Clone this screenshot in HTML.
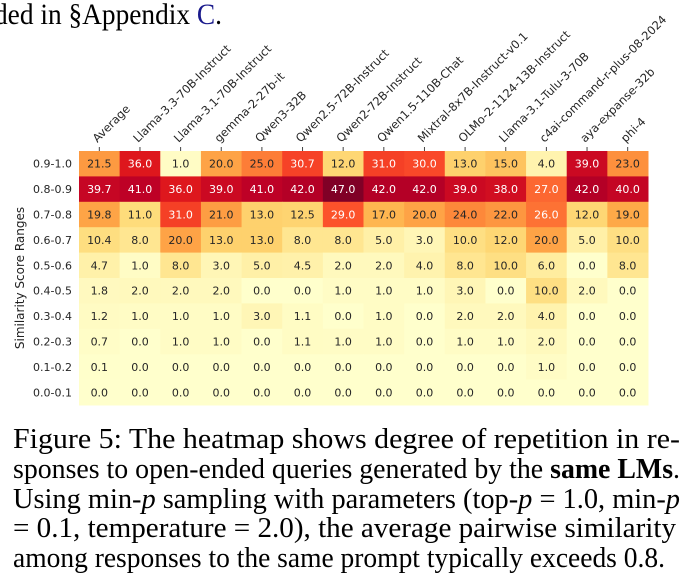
<!DOCTYPE html>
<html><head><meta charset="utf-8"><style>
html,body{margin:0;padding:0;background:#fff;width:694px;height:583px;overflow:hidden}
svg{display:block}
</style></head><body>
<svg id="chart" width="694" height="583" xmlns="http://www.w3.org/2000/svg">
<text x="-6" y="24" font-family="Liberation Serif, serif" font-size="30" fill="#000" textLength="228" lengthAdjust="spacingAndGlyphs">ded in §Appendix <tspan fill="#1a1a8c">C</tspan>.</text>
<g id="heat"></g>
<text transform="translate(24,278) rotate(-90)" text-anchor="middle" font-family="DejaVu Sans, sans-serif" font-size="12" fill="#222">Similarity Score Ranges</text>
<g font-family="Liberation Serif, serif" font-size="28" fill="#000">
<text x="13" y="448" textLength="667" lengthAdjust="spacingAndGlyphs">Figure 5:  The heatmap shows degree of repetition in re-</text>
<text x="13" y="478" textLength="667" lengthAdjust="spacingAndGlyphs">sponses to open-ended queries generated by the <tspan font-weight="bold">same LMs</tspan>.</text>
<text x="13" y="508" textLength="667" lengthAdjust="spacingAndGlyphs">Using min-<tspan font-style="italic">p</tspan> sampling with parameters (top-<tspan font-style="italic">p</tspan> = 1.0, min-<tspan font-style="italic">p</tspan></text>
<text x="13" y="537" textLength="663" lengthAdjust="spacingAndGlyphs">= 0.1, temperature = 2.0), the average pairwise similarity</text>
<text x="13" y="567" textLength="652" lengthAdjust="spacingAndGlyphs">among responses to the same prompt typically exceeds 0.8.</text>
</g>
</svg>
<script>
const models = ["Average","Llama-3.3-70B-Instruct","Llama-3.1-70B-Instruct","gemma-2-27b-it","Qwen3-32B","Qwen2.5-72B-Instruct","Qwen2-72B-Instruct","Qwen1.5-110B-Chat","Mixtral-8x7B-Instruct-v0.1","OLMo-2-1124-13B-Instruct","Llama-3.1-Tulu-3-70B","c4ai-command-r-plus-08-2024","aya-expanse-32b","phi-4"];
const ranges = ["0.9-1.0","0.8-0.9","0.7-0.8","0.6-0.7","0.5-0.6","0.4-0.5","0.3-0.4","0.2-0.3","0.1-0.2","0.0-0.1"];
const row09 = [21.5,36.0,1.0,20.0,25.0,30.7,12.0,31.0,30.0,13.0,15.0,4.0,39.0,23.0];
const row08 = [39.7,41.0,36.0,39.0,41.0,42.0,47.0,42.0,42.0,39.0,38.0,27.0,42.0,40.0];
const row07 = [19.8,11.0,31.0,21.0,13.0,12.5,29.0,17.0,20.0,24.0,22.0,26.0,12.0,19.0];
const row06 = [10.4,8.0,20.0,13.0,13.0,8.0,8.0,5.0,3.0,10.0,12.0,20.0,5.0,10.0];
const row05 = [4.7,1.0,8.0,3.0,5.0,4.5,2.0,2.0,4.0,8.0,10.0,6.0,0.0,8.0];
const row04 = [1.8,2.0,2.0,2.0,0.0,0.0,1.0,1.0,1.0,3.0,0.0,10.0,2.0,0.0];
const row03 = [1.2,1.0,1.0,1.0,3.0,1.1,0.0,1.0,0.0,2.0,2.0,4.0,0.0,0.0];
const row02 = [0.7,0.0,1.0,1.0,0.0,1.1,1.0,1.0,0.0,1.0,1.0,2.0,0.0,0.0];
const row01 = [0.1,0.0,0.0,0.0,0.0,0.0,0.0,0.0,0.0,0.0,0.0,1.0,0.0,0.0];
const row00 = [0.0,0.0,0.0,0.0,0.0,0.0,0.0,0.0,0.0,0.0,0.0,0.0,0.0,0.0];
const rows = [row09,row08,row07,row06,row05,row04,row03,row02,row01,row00];

const X0=79, X1=648, Y0=151, Y1=405;
const cw=(X1-X0)/models.length, ch=(Y1-Y0)/ranges.length;
const xPos=i=>X0+i*cw, yPos=j=>Y0+j*ch;
const vmax=Math.max(...rows.flat());
const stops=["#ffffcc","#ffeda0","#fed976","#feb24c","#fd8d3c","#fc4e2a","#e31a1c","#bd0026","#800026"].map(h=>[1,3,5].map(k=>parseInt(h.substr(k,2),16)));
function color(v){
  let t=Math.max(0,Math.min(1,v/vmax))*(stops.length-1);
  let i=Math.min(Math.floor(t),stops.length-2), f=t-i;
  return stops[i].map((c,k)=>Math.round(c+(stops[i+1][k]-c)*f));
}
const NS="http://www.w3.org/2000/svg";
const g=document.getElementById('heat');
function mk(tag,attrs){const e=document.createElementNS(NS,tag);for(const k in attrs)e.setAttribute(k,attrs[k]);g.appendChild(e);return e;}
rows.forEach((row,j)=>{
  row.forEach((v,i)=>{
    const c=color(v);
    const r=mk('rect',{x:xPos(i),y:yPos(j),width:cw+0.5,height:ch+0.5,fill:`rgb(${c})`});
    
    
    const lum=(0.2126*c[0]+0.7152*c[1]+0.0722*c[2])/255;
    const t=mk('text',{x:xPos(i)+cw/2,y:yPos(j)+ch/2+4,'text-anchor':'middle','font-family':'DejaVu Sans, sans-serif','font-size':'11',fill:lum<0.55?'#fff':'#262626'});
    
    
    t.textContent=v.toFixed(1);
  });
});
ranges.forEach((r,j)=>{
  const t=mk('text',{x:72,y:yPos(j)+ch/2+4,'text-anchor':'end','font-family':'DejaVu Sans, sans-serif','font-size':'11',fill:'#262626'});
  
  
  t.textContent=r;
});
models.forEach((m,i)=>{
  const cx=xPos(i)+cw/2;
  const tk=mk('line',{x1:cx,y1:Y0-4,x2:cx,y2:Y0,stroke:'#444','stroke-width':1});
  
  
  const t=mk('text',{transform:`translate(${cx-2},${Y0-8}) rotate(-45)`,'font-family':'DejaVu Sans, sans-serif','font-size':'11.5',fill:'#262626'});
  
  
  t.textContent=m;
});
</script>
</body></html>
